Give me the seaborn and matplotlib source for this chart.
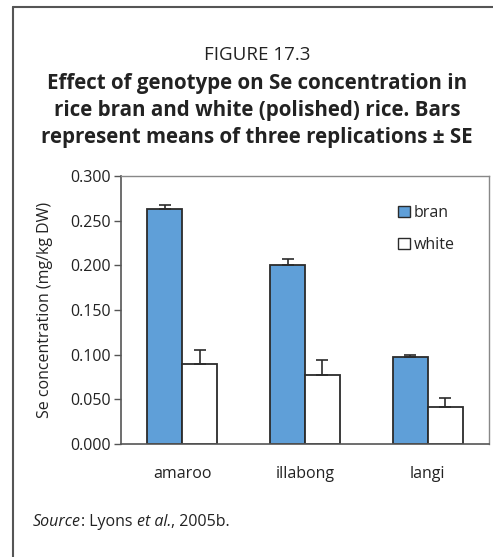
import pandas as pd
import numpy as np
import matplotlib
matplotlib.use("Agg")
import matplotlib.pyplot as plt
import seaborn as sns
from matplotlib.lines import Line2D

# values
genotypes = ["amaroo", "illabong", "langi"]
bran_mean = [0.263, 0.200, 0.097]
bran_se = [0.005, 0.007, 0.003]
white_mean = [0.090, 0.077, 0.041]
white_se = [0.015, 0.017, 0.011]
y_ticks = [0.0, 0.05, 0.10, 0.15, 0.20, 0.25, 0.30]

df = pd.DataFrame({
    "genotype": genotypes * 2,
    "fraction": ["bran"] * 3 + ["white"] * 3,
    "se": bran_mean + white_mean,
})
errs = bran_se + white_se

sns.set_style("white")
plt.rcParams["font.family"] = ["Open Sans", "DejaVu Sans"]
TXT = "#222222"

fig = plt.figure(figsize=(4.93, 5.57), dpi=100)
ax = fig.add_axes([121 / 493, 1 - 444 / 557, 368 / 493, 268 / 557])

sns.barplot(
    data=df, x="genotype", y="se", hue="fraction",
    palette={"bran": "#5f9fd8", "white": "white"}, saturation=1,
    width=0.57, gap=0, errorbar=None,
    edgecolor="#2b2b2b", linewidth=1.3, ax=ax,
)

# upper error bars only, placed on the bars seaborn drew
bars = [p for p in ax.patches if p.get_height() > 0][:6]
for bar, e in zip(bars, errs):
    xc = bar.get_x() + bar.get_width() / 2
    ax.errorbar(xc, bar.get_height(), yerr=[[0], [e]], fmt="none",
                ecolor="#2b2b2b", elinewidth=1.2, capsize=4, capthick=1.2, zorder=5)

ax.set_ylim(0, 0.30)
ax.set_xlim(-0.5, 2.5)
ax.set_yticks(y_ticks)
ax.set_yticklabels([f"{v:.3f}" for v in y_ticks], fontsize=11.5, color=TXT)
ax.set_xticks([0, 1, 2])
ax.set_xticklabels(genotypes, fontsize=11.5, color=TXT)
ax.set_xticks([-0.5, 0.5, 1.5, 2.5], minor=True)
ax.tick_params(axis="x", which="major", length=0, pad=16)
ax.tick_params(axis="x", which="minor", length=5, color="#555555", width=1, direction="out")
ax.tick_params(axis="y", length=5, color="#555555", width=1, direction="out", left=True, pad=2)
ax.set_xlabel("")
ax.set_ylabel("Se concentration (mg/kg DW)", fontsize=11.5, color=TXT)
ax.yaxis.set_label_coords((53 - 121) / 368, 0.5)

for side in ["left", "bottom"]:
    ax.spines[side].set_color("#555555")
    ax.spines[side].set_linewidth(1.2)
for side in ["top", "right"]:
    ax.spines[side].set_color("#888888")
    ax.spines[side].set_linewidth(1.0)

leg = ax.legend(loc="upper left", bbox_to_anchor=((398 - 121) / 368, (444 - 205) / 268),
                frameon=False, fontsize=11.5, handlelength=0.75, handleheight=0.75,
                handletextpad=0.25, labelspacing=1.0, borderaxespad=0, borderpad=0)
for h in leg.legend_handles:
    h.set_edgecolor("#2b2b2b")
    h.set_linewidth(1.0)

# outer frame of the book figure
fig.add_artist(Line2D([12.5 / 493, 12.5 / 493], [0, 1 - 6.5 / 557],
                      transform=fig.transFigure, color="#555555", lw=1.5))
fig.add_artist(Line2D([12.5 / 493, 1], [1 - 6.5 / 557, 1 - 6.5 / 557],
                      transform=fig.transFigure, color="#555555", lw=1.5))

fig.text(257 / 493, 1 - 55 / 557, "FIGURE 17.3", ha="center", va="center",
         fontsize=13.5, color=TXT)
title_lines = [
    "Effect of genotype on Se concentration in",
    "rice bran and white (polished) rice. Bars",
    "represent means of three replications \u00b1 SE",
]
for i, line in enumerate(title_lines):
    fig.text(257 / 493, 1 - (83 + 27.5 * i) / 557, line, ha="center", va="center",
             fontsize=14.8, fontweight="bold", color=TXT)

# source line, pieces placed one after another
pieces = [("Source", "italic"), (": Lyons ", "normal"), ("et al.", "italic"),
          (", 2005b.", "normal")]
renderer = fig.canvas.get_renderer()
x = 33
for s, st in pieces:
    t = fig.text(x / 493, 1 - 522 / 557, s, ha="left", va="center",
                 fontsize=11.5, style=st, color=TXT)
    x += t.get_window_extent(renderer).width

fig.savefig("out.png", dpi=100)
